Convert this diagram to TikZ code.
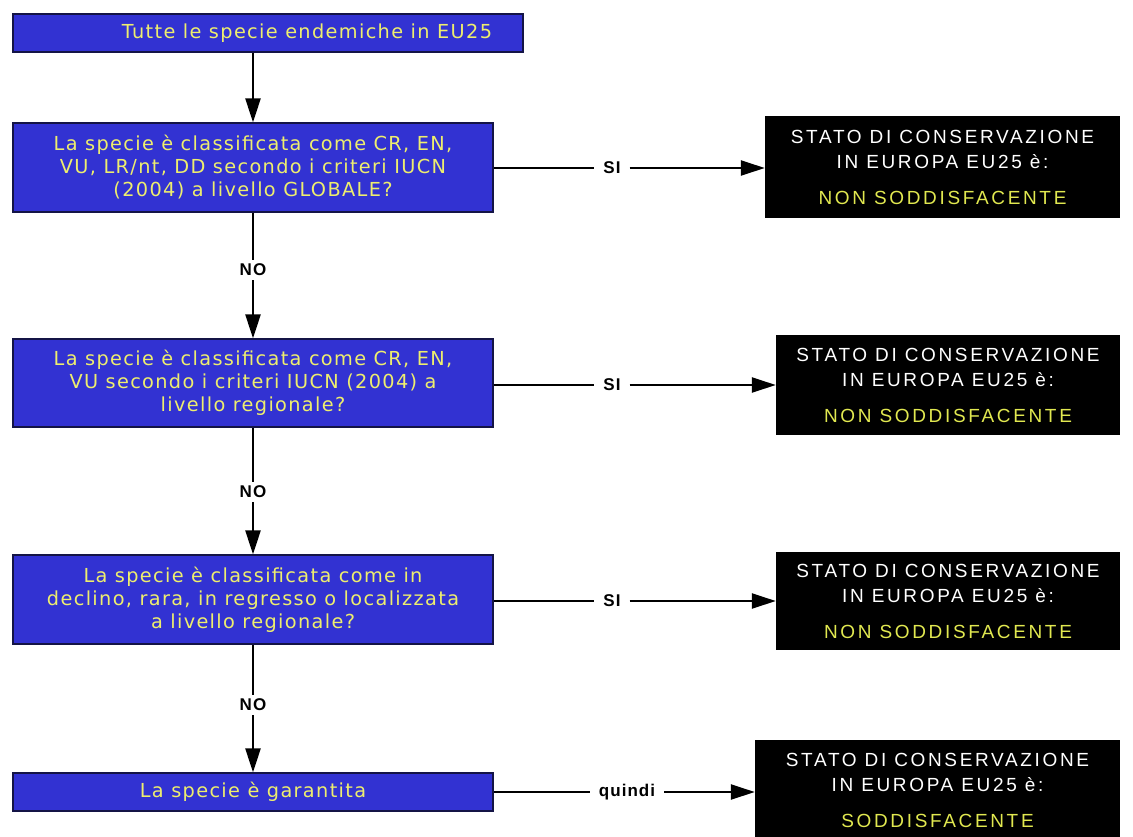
\documentclass[tikz,border=0pt]{standalone}
\usepackage{fontspec}
\usetikzlibrary{arrows.meta}
\newfontfamily\qfont[LetterSpace=7]{DejaVu Sans}
\newfontfamily\kfont[LetterSpace=14]{Liberation Sans}
\newfontfamily\lfont[LetterSpace=6]{Liberation Sans}
\definecolor{qblue}{RGB}{50,50,210}
\definecolor{qborder}{RGB}{20,20,70}
\definecolor{qtext}{RGB}{238,238,110}
\definecolor{ktext}{RGB}{225,232,80}
\tikzset{
  qbox/.style={draw=qborder, line width=1.2pt, fill=qblue, text=qtext, align=center,
    font=\qfont\fontsize{19.3}{23}\selectfont, inner sep=0pt, minimum width=480pt},
  qtxt/.style={text=qtext, align=center, font=\qfont\fontsize{19.3}{23}\selectfont, inner sep=0pt},
  kbox/.style={fill=black, text=white, align=center,
    font=\kfont\fontsize{19}{25}\selectfont, inner sep=0pt},
  lbl/.style={font=\lfont\bfseries\fontsize{17}{18}\selectfont, inner xsep=9pt, inner ysep=4pt},
  conn/.style={line width=2.3pt},
  arr/.style={line width=2.3pt, -{Triangle[length=24pt,width=15pt]}}
}
\begin{document}
\begin{tikzpicture}[x=1pt,y=-1pt]
\useasboundingbox (0,0) rectangle (1133,836);
\fill[white] (0,0) rectangle (1133,836);

% question boxes
\node[qbox, minimum width=510pt, minimum height=38pt] (b1) at (268,33) {};
\node[qtxt] (b1t) at (307,33) {Tutte le specie endemiche in EU25};
\node[qbox, minimum height=89pt] (b2) at (253,167.5) {La specie è classificata come CR, EN,\\VU, LR/nt, DD secondo i criteri IUCN\\(2004) a livello GLOBALE?};
\node[qbox, minimum height=88pt] (b3) at (253,383) {La specie è classificata come CR, EN,\\VU secondo i criteri IUCN (2004) a\\livello regionale?};
\node[qbox, minimum height=89pt] (b4) at (253,599.5) {La specie è classificata come in\\declino, rara, in regresso o localizzata\\a livello regionale?};
\node[qbox, minimum height=38pt] (b5) at (253,792) {La specie è garantita};

% result boxes
\node[kbox, minimum width=355pt, minimum height=102pt] (k1) at (942.5,167) {STATO DI CONSERVAZIONE\\IN EUROPA EU25 è:\\[11pt]{\color{ktext}NON SODDISFACENTE}};
\node[kbox, minimum width=344pt, minimum height=100pt] (k2) at (948,385) {STATO DI CONSERVAZIONE\\IN EUROPA EU25 è:\\[11pt]{\color{ktext}NON SODDISFACENTE}};
\node[kbox, minimum width=344pt, minimum height=98pt] (k3) at (948,601) {STATO DI CONSERVAZIONE\\IN EUROPA EU25 è:\\[11pt]{\color{ktext}NON SODDISFACENTE}};
\node[kbox, minimum width=365pt, minimum height=100pt] (k4) at (937.5,790) {STATO DI CONSERVAZIONE\\IN EUROPA EU25 è:\\[11pt]{\color{ktext}SODDISFACENTE}};

% labels
\node[lbl] (no1) at (253,270) {NO};
\node[lbl] (no2) at (253,492) {NO};
\node[lbl] (no3) at (253,705) {NO};
\node[lbl] (si1) at (612,168) {SI};
\node[lbl] (si2) at (612,385) {SI};
\node[lbl] (si3) at (612,601) {SI};
\node[lbl] (q1) at (627,792) {quindi};

% connectors
\draw[arr] (b1.south -| b2.north) -- (b2.north);
\draw[conn] (b2.south) -- (no1.north);
\draw[arr] (no1.south) -- (b3.north);
\draw[conn] (b3.south) -- (no2.north);
\draw[arr] (no2.south) -- (b4.north);
\draw[conn] (b4.south) -- (no3.north);
\draw[arr] (no3.south) -- (b5.north);

\draw[conn] (b2.east |- si1) -- (si1.west);
\draw[arr] (si1.east) -- (k1.west |- si1);
\draw[conn] (b3.east |- si2) -- (si2.west);
\draw[arr] (si2.east) -- (k2.west |- si2);
\draw[conn] (b4.east |- si3) -- (si3.west);
\draw[arr] (si3.east) -- (k3.west |- si3);
\draw[conn] (b5.east |- q1) -- (q1.west);
\draw[arr] (q1.east) -- (k4.west |- q1);
\end{tikzpicture}
\end{document}
